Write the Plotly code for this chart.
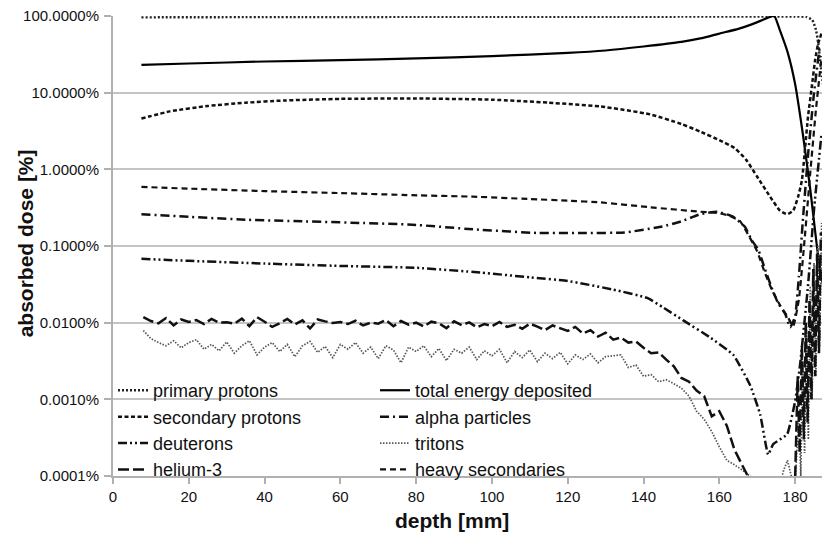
import plotly.graph_objects as go

# ---------------- data (dose in % of total, depth in mm) ----------------
depth_primary = [7.5, 50, 100, 150, 180, 183, 184.5, 185.5, 186.1, 186.6, 187.1, 188]
dose_primary = [96, 97, 97.5, 98, 98.5, 97, 89, 66, 44, 27, 16, 8]

depth_total = [7.5, 20, 40, 60, 80, 100, 120, 130, 140, 150, 155, 160, 165, 168, 171,
               173, 174.5, 176, 178, 180, 182, 184, 186, 188]
dose_total = [23, 24, 25.5, 26.5, 28, 30, 33, 35.5, 40, 46, 51, 59, 68, 76, 87,
              96, 100, 65, 34, 13, 3, 0.55, 0.08, 0.02]

depth_secondary = [7.5, 15, 25, 35, 45, 60, 80, 100, 115, 128.7, 141.8, 150, 155, 160,
                   164, 167, 170, 173.4, 176, 177.9, 179.5, 180.8, 181.8, 182.6,
                   183.4, 184.5, 185.3, 186.1, 187.1]
dose_secondary = [4.6, 5.7, 6.7, 7.4, 7.9, 8.3, 8.4, 8.1, 7.4, 6.6, 5.2, 3.9, 3.1, 2.4,
                  1.9, 1.35, 0.8, 0.44, 0.29, 0.26, 0.29, 0.44, 0.72, 1.8,
                  4.8, 13, 27, 44, 62]

depth_alpha = [7.5, 20, 35, 50, 65, 79, 95, 112, 125, 135, 145, 150, 155, 159.5, 163.7,
               166.8, 168.5, 170.3, 172.1, 174, 175.5, 177.4, 178.7, 180, 181, 182,
               183.4, 185, 186.5]
dose_alpha = [0.26, 0.24, 0.22, 0.21, 0.2, 0.19, 0.165, 0.148, 0.148, 0.15, 0.18, 0.21,
              0.26, 0.28, 0.24, 0.177, 0.12, 0.089, 0.049, 0.027, 0.018, 0.013, 0.0087,
              0.012, 0.04, 0.2, 1.5, 10, 40]

depth_deuterons = [7.5, 20, 40, 60, 80, 97, 110, 120, 132, 141, 145, 150.5, 157.6, 163.7,
                   168.2, 170.8, 172.9, 174.2, 176, 177.9, 180, 181.3, 183.4, 185, 187]
dose_deuterons = [0.068, 0.064, 0.059, 0.055, 0.052, 0.045, 0.039, 0.035, 0.027, 0.021,
                  0.016, 0.0107, 0.0064, 0.0038, 0.0015, 0.00063, 0.00019, 0.00026,
                  0.0003, 0.00035, 0.00094, 0.0028, 0.03, 0.3, 3]

depth_tritons = [8, 10, 12, 14, 16, 18, 20, 22, 24, 26, 28, 30, 32, 34, 36, 38, 40, 42, 44,
                 46, 48, 50, 52, 54, 56, 58, 60, 62, 64, 66, 68, 70, 72, 74, 76, 78, 80,
                 82, 84, 86, 88, 90, 92, 94, 96, 98, 100, 102, 104, 106, 108, 110, 112,
                 114, 116, 118, 120, 122, 124, 126, 128, 130, 132, 134, 136, 138, 140,
                 142, 144, 146, 148, 150, 152, 154, 156, 158, 160, 162, 164, 166, 168,
                 170, 174, 177, 178, 179, 180, 181, 181.5, 182, 182.5, 183, 183.5, 184,
                 184.5, 185, 185.5, 186, 186.5, 187]
dose_tritons = [0.0079, 0.0062, 0.0055, 0.0050, 0.0058, 0.0047, 0.0055, 0.0060, 0.0045,
                0.0052, 0.0043, 0.0056, 0.0040, 0.0050, 0.0058, 0.0038, 0.0048, 0.0055,
                0.0042, 0.0052, 0.0036, 0.0050, 0.0057, 0.0041, 0.0049, 0.0035, 0.0052,
                0.0045, 0.0055, 0.0040, 0.0048, 0.0034, 0.0050, 0.0044, 0.0030, 0.0048,
                0.0042, 0.0050, 0.0036, 0.0046, 0.0032, 0.0045, 0.0040, 0.0048, 0.0033,
                0.0043, 0.0037, 0.0045, 0.0030, 0.0042, 0.0035, 0.0044, 0.0031, 0.0040,
                0.0034, 0.0041, 0.0029, 0.0038, 0.0033, 0.0039, 0.0030, 0.0036, 0.0037,
                0.0038, 0.0026, 0.0028, 0.0020, 0.0021, 0.0017, 0.0018, 0.0016, 0.0014,
                0.0011, 0.0007, 0.00055, 0.00038, 0.00024, 0.00016, 0.00014, 0.00012,
                0.0001, 0.00009, 0.00003, 0.00012, 0.00016, 0.0001, 0.00008, 0.0006,
                0.0001, 0.003, 0.0002, 0.01, 0.0003, 0.03, 0.001, 0.06, 0.002, 0.1, 0.005,
                0.2]

depth_helium3 = [8, 10, 12, 14, 16, 18, 20, 22, 24, 26, 28, 30, 32, 34, 36, 38, 40, 42, 44,
                 46, 48, 50, 52, 54, 56, 58, 60, 62, 64, 66, 68, 70, 72, 74, 76, 78, 80,
                 82, 84, 86, 88, 90, 92, 94, 96, 98, 100, 102, 104, 106, 108, 110, 112,
                 114, 116, 118, 120, 122, 124, 126, 128, 130, 132, 134, 136, 138, 140,
                 142, 144, 146, 148, 150, 152, 154, 156, 158, 160, 162, 164, 166, 168,
                 174, 180, 180.7, 181.2, 181.8, 182.3, 182.8, 183.3, 183.8, 184.3, 184.8,
                 185.3, 185.8, 186.3, 186.8]
dose_helium3 = [0.0118, 0.0105, 0.0098, 0.0115, 0.0092, 0.0110, 0.0102, 0.0108, 0.0096,
                0.0112, 0.0100, 0.0101, 0.0097, 0.0113, 0.0090, 0.0118, 0.0103, 0.0088,
                0.0098, 0.0112, 0.0095, 0.0107, 0.0084, 0.0110, 0.0104, 0.0099, 0.0102,
                0.0096, 0.0106, 0.0092, 0.0100, 0.0097, 0.0108, 0.0090, 0.0105, 0.0094,
                0.0100, 0.0089, 0.0103, 0.0098, 0.0085, 0.0104, 0.0093, 0.0101, 0.0087,
                0.0096, 0.0090, 0.0102, 0.0088, 0.0094, 0.0083, 0.0097, 0.0089, 0.0080,
                0.0092, 0.0085, 0.0078, 0.0088, 0.0072, 0.0080, 0.0066, 0.0074, 0.0060,
                0.0064, 0.0055, 0.0057, 0.0047, 0.0040, 0.0041, 0.0033, 0.0027, 0.0019,
                0.0017, 0.0013, 0.0011, 0.0006, 0.0007, 0.00045, 0.00022, 0.00014,
                0.00009, 0.00003, 0.00009, 0.002, 0.0002, 0.005, 0.0003, 0.01, 0.0005,
                0.02, 0.001, 0.05, 0.002, 0.08, 0.004, 0.15]

depth_heavy = [7.5, 20, 40, 60, 79, 95, 110, 120, 128.7, 141.8, 155, 159.5, 162.5, 165.5,
               168, 170, 172, 174, 176, 178, 179.5, 181, 182.5, 184, 185.5, 187]
dose_heavy = [0.59, 0.56, 0.52, 0.49, 0.46, 0.44, 0.41, 0.39, 0.37, 0.32, 0.28, 0.27,
              0.25, 0.21, 0.13, 0.085, 0.045, 0.026, 0.017, 0.012, 0.009, 0.02, 0.12,
              0.9, 6, 30]

legend_names = ["primary protons", "total energy deposited", "secondary protons",
                "alpha particles", "deuterons", "tritons", "helium-3", "heavy secondaries"]

ytick_vals = [100, 10, 1, 0.1, 0.01, 0.001, 0.0001]
ytick_text = ["100.0000%", "10.0000%", "1.0000%", "0.1000%", "0.0100%", "0.0010%", "0.0001%"]
xtick_vals = [0, 20, 40, 60, 80, 100, 120, 140, 160, 180]

# ---------------- figure ----------------
series = [
    (depth_primary, dose_primary, dict(color="#222222", width=2.4, dash="2px,2px", shape="spline", smoothing=0.5)),
    (depth_total, dose_total, dict(color="#000000", width=2.2, dash="solid", shape="spline", smoothing=0.5)),
    (depth_secondary, dose_secondary, dict(color="#111111", width=2.5, dash="4px,2.5px", shape="spline", smoothing=0.5)),
    (depth_alpha, dose_alpha, dict(color="#111111", width=2.5, dash="9px,4px,2px,4px", shape="spline", smoothing=0.4)),
    (depth_deuterons, dose_deuterons, dict(color="#111111", width=2.5, dash="9px,3px,2px,3px,2px,3px", shape="spline", smoothing=0.4)),
    (depth_tritons, dose_tritons, dict(color="#555555", width=1.7, dash="1.5px,1.5px")),
    (depth_helium3, dose_helium3, dict(color="#111111", width=2.5, dash="11px,4px")),
    (depth_heavy, dose_heavy, dict(color="#111111", width=2.2, dash="6px,4px", shape="spline", smoothing=0.4)),
]

fig = go.Figure()
for (xs, ys, ln), name in zip(series, legend_names):
    fig.add_trace(go.Scatter(x=xs, y=ys, mode="lines", name=name, line=ln))

W, H = 822, 536
L, R, T, B = 113, 0, 16, 60

fig.update_layout(
    width=W, height=H,
    margin=dict(l=L, r=R, t=T, b=B, pad=0),
    paper_bgcolor="white", plot_bgcolor="white",
    font=dict(family="Liberation Sans, Arial, sans-serif", color="#111111"),
    showlegend=True,
    legend=dict(
        orientation="h", x=0.0, xanchor="left", y=0.226, yanchor="top",
        bgcolor="rgba(0,0,0,0)", font=dict(size=18, color="#111111"),
        entrywidth=217, entrywidthmode="pixels", itemwidth=30,
        tracegroupgap=0, traceorder="normal",
    ),
    shapes=[dict(type="rect", xref="paper", yref="paper", x0=0.004, x1=0.72,
                 y0=0.004, y1=0.208, fillcolor="white", line=dict(width=0),
                 layer="between")],
    annotations=[
        dict(text="<b>depth [mm]</b>", xref="paper", yref="paper", x=0.478, y=-0.096,
             xanchor="center", yanchor="middle", showarrow=False,
             font=dict(size=21, color="#111111")),
        dict(text="<b>absorbed dose [%]</b>", xref="paper", yref="paper", x=-0.124,
             y=0.506, xanchor="center", yanchor="middle", showarrow=False,
             textangle=-90, font=dict(size=21, color="#111111")),
    ],
)

fig.update_xaxes(
    range=[0, 187.1], tickvals=xtick_vals, showgrid=False, zeroline=False,
    showline=True, linecolor="#b0b0b0", linewidth=2,
    ticks="outside", ticklen=6, tickcolor="#b0b0b0", tickwidth=1.5,
    tickfont=dict(size=15, color="#111111"),
)
fig.update_yaxes(
    type="log", range=[-4, 2], tickvals=ytick_vals, ticktext=ytick_text,
    showgrid=True, gridcolor="#c4c4c4", gridwidth=1.6, zeroline=False,
    showline=True, linecolor="#b0b0b0", linewidth=2,
    ticks="outside", ticklen=7, tickcolor="#b0b0b0", tickwidth=1.5,
    ticklabelstandoff=2,
    tickfont=dict(size=15, color="#111111"),
)

fig.write_html("out.html")
